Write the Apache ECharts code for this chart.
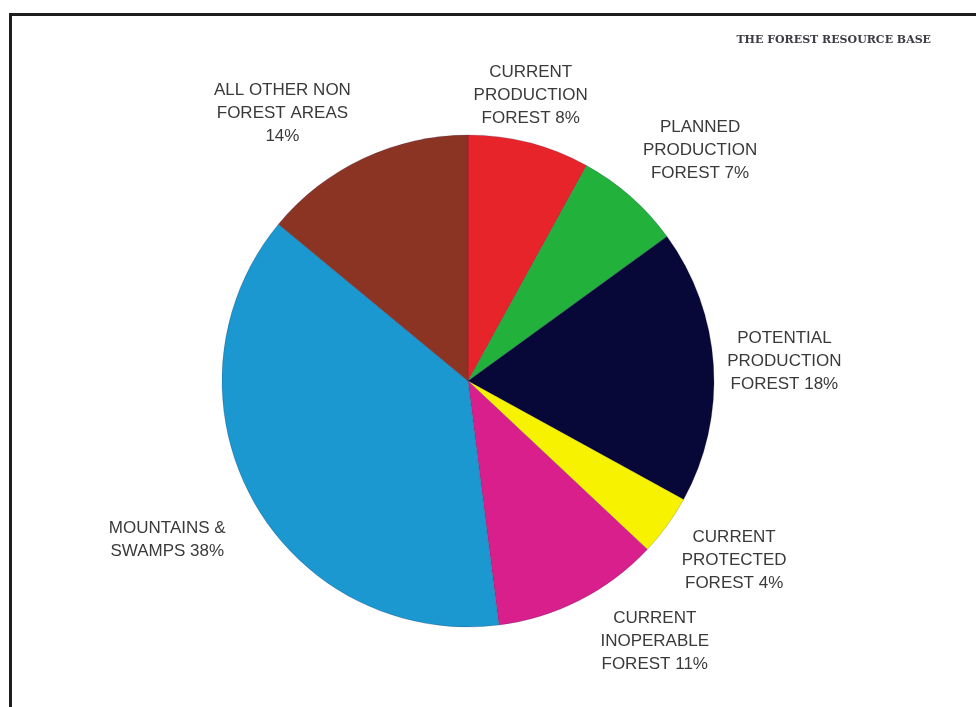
<!DOCTYPE html>
<html>
<head>
<meta charset="utf-8">
<title>The Forest Resource Base</title>
<script src="https://cdn.jsdelivr.net/npm/echarts@6/dist/echarts.min.js"></script>
<style>
  html, body { margin: 0; padding: 0; background: #ffffff; }
  #chart { position: absolute; left: 0; top: 0; width: 976px; height: 707px; }
  #frame {
    position: absolute; left: 9px; top: 13px; right: -10px; bottom: -10px;
    border-top: 3px solid #1e1e1e; border-left: 3px solid #1e1e1e;
    pointer-events: none;
  }
</style>
</head>
<body>
<div id="chart"></div>
<div id="frame"></div>
<script>
// Land-use shares, clockwise from twelve o'clock
const categories = [
  'CURRENT\nPRODUCTION\nFOREST',
  'PLANNED\nPRODUCTION\nFOREST',
  'POTENTIAL\nPRODUCTION\nFOREST',
  'CURRENT\nPROTECTED\nFOREST',
  'CURRENT\nINOPERABLE\nFOREST',
  'MOUNTAINS &\nSWAMPS',
  'ALL OTHER NON\nFOREST AREAS\n'
];
const shares = [8, 7, 18, 4, 11, 38, 14];
const sliceColors = ['#e62429', '#22b23c', '#070838', '#f7f200', '#d91f8b', '#1b98cf', '#8c3424'];

// Layout constants
const CENTER = [468, 381];
const RADIUS = 246;
// distance of each label block beyond the rim, and a small angular nudge (degrees)
const labelGap = [46, 81, 71, 75, 74, 94, 80];
const labelNudge = [-2, 3.8, 0, -2, -8.7, 1, -9.5];

const chart = echarts.init(document.getElementById('chart'), null, { renderer: 'canvas' });

const option = {
  animation: false,
  backgroundColor: '#ffffff',
  title: {
    text: 'THE FOREST RESOURCE BASE',
    right: 40,
    top: 30,
    textStyle: {
      fontFamily: 'DejaVu Serif',
      fontSize: 11,
      fontWeight: 'bold',
      color: '#3c3c46'
    }
  },
  series: [{
    type: 'pie',
    center: CENTER,
    radius: RADIUS,
    startAngle: 90,
    clockwise: true,
    avoidLabelOverlap: false,
    silent: true,
    data: categories.map((name, i) => ({
      name: name,
      value: shares[i],
      itemStyle: { color: sliceColors[i] }
    })),
    itemStyle: { borderColor: 'rgba(30,30,80,0.35)', borderWidth: 0.6 },
    label: {
      show: true,
      position: 'outside',
      fontFamily: 'Liberation Sans',
      fontSize: 17,
      lineHeight: 23,
      color: '#3a3a3a',
      formatter: p => p.name + (p.name.endsWith('\n') ? '' : ' ') + p.value + '%'
    },
    labelLine: {
      show: true,
      length: 4,
      length2: 0,
      lineStyle: { opacity: 0, width: 0 }
    },
    labelLayout: function (params) {
      const i = params.dataIndex;
      let phi;
      const pts = params.labelLinePoints;
      if (pts && pts.length > 1 && (pts[1][0] !== pts[0][0] || pts[1][1] !== pts[0][1])) {
        phi = Math.atan2(pts[1][1] - pts[0][1], pts[1][0] - pts[0][0]);
      } else {
        const total = shares.reduce((a, b) => a + b, 0);
        let before = 0;
        for (let k = 0; k < i; k++) before += shares[k];
        phi = -Math.PI / 2 + (before + shares[i] / 2) / total * Math.PI * 2;
      }
      phi += labelNudge[i] * Math.PI / 180;
      const d = RADIUS + labelGap[i];
      return {
        x: CENTER[0] + Math.cos(phi) * d,
        y: CENTER[1] + Math.sin(phi) * d,
        align: 'center',
        verticalAlign: 'middle'
      };
    }
  }]
};

chart.setOption(option);
</script>
</body>
</html>
